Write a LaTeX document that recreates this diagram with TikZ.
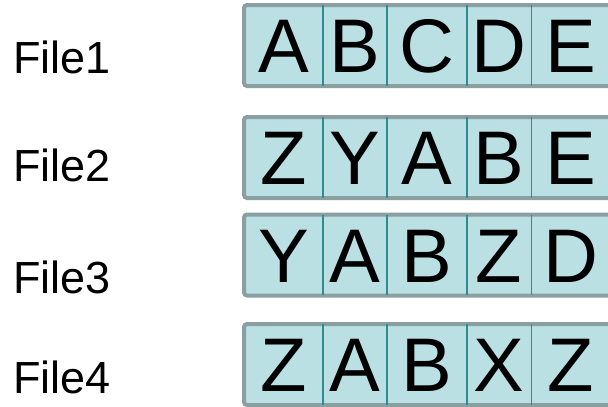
\documentclass[tikz,border=0pt]{standalone}
\usepackage{fontspec}
\setmainfont{Liberation Sans}
\definecolor{cellfill}{HTML}{BAE0E3}
\definecolor{stripframe}{HTML}{8A9FA1}
\definecolor{divider}{HTML}{2E8B91}

\begin{document}
\begin{tikzpicture}[
    x=1pt,y=-1pt,
    strip/.style={draw=stripframe,line width=4pt,fill=cellfill,rounded corners=3pt,
        minimum width=376pt,minimum height=81pt,inner sep=0pt,anchor=west},
    letter/.style={font=\fontsize{76}{76}\selectfont,text height=54.4pt,text depth=0pt,
        inner sep=0pt,minimum height=80pt},
    fname/.style={font=\fontsize{45}{45}\selectfont,text height=32.2pt,text depth=0pt,
        inner sep=0pt,anchor=west},
    sep/.style={draw=divider,line width=1.5pt}
]
\useasboundingbox (0,0) rectangle (608,407);

\foreach \r/\y/\fy/\a/\b/\c/\d/\e in {
    1/45.5/57/A/B/C/D/E,
    2/157.5/165/Z/Y/A/B/E,
    3/255/277/Y/A/B/Z/D,
    4/364.5/377/Z/A/B/X/Z}
{
    \node[fname] (f\r) at (13,\fy) {File\r};
    \node[strip] (s\r) at (242,\y) {};
    \foreach \ch/\cx/\w [count=\i] in {\a/283.4/78.7,\b/354.7/64,\c/426.7/80,\d/498.9/64.3,\e/571/80}
        \node[letter,minimum width=\w pt] (c\r\i) at (\cx,\y) {\ch};
    \foreach \i in {1,...,4}
        \draw[sep] (c\r\i.north east) -- (c\r\i.south east);
}
\end{tikzpicture}
\end{document}
